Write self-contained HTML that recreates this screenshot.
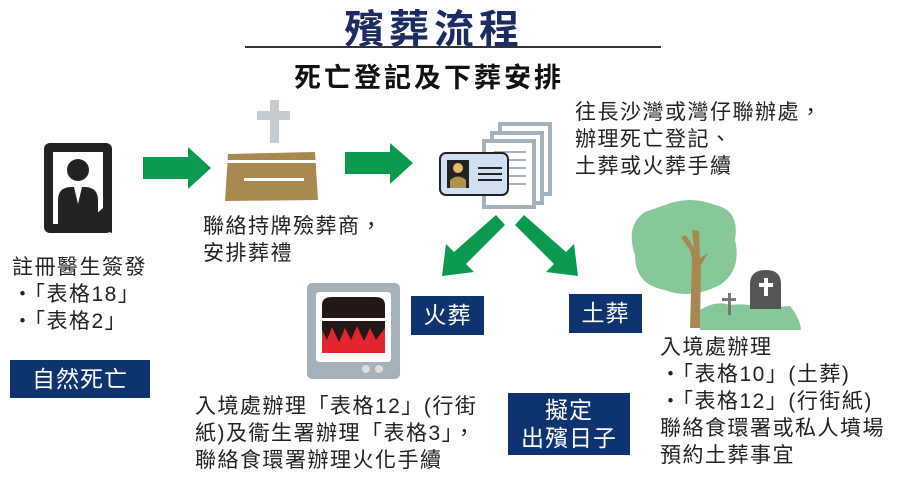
<!DOCTYPE html>
<html><head><meta charset="utf-8"><style>
body{margin:0;width:907px;height:481px;background:#fff;position:relative;overflow:hidden;font-family:"Liberation Sans","Noto Sans CJK TC",sans-serif;color:#222}
.a{position:absolute;white-space:nowrap}
.t{font-size:21px;line-height:27px;letter-spacing:1.5px}
.box{position:absolute;background:#0d3370;color:#fff;text-align:center}
</style></head><body>
<div class="a" style="left:344px;top:-3px;font-size:40px;font-weight:bold;color:#1a2c62;letter-spacing:5px">殯葬流程</div>
<div class="a" style="left:245px;top:46px;width:416px;height:2px;background:#333"></div>
<div class="a" style="left:294px;top:56px;font-size:27px;font-weight:bold;color:#111;letter-spacing:3px">死亡登記及下葬安排</div>

<svg class="a" style="left:0;top:0" width="907" height="481">
 <rect x="44" y="143" width="68" height="90" rx="6" fill="#222"/>
 <rect x="53" y="152" width="50" height="72" fill="#fff"/>
 <circle cx="78" cy="170" r="11" fill="#222"/>
 <path d="M58 224 L58 200 Q58 188 70 187 L86 187 Q98 188 98 200 L98 224 Z" fill="#222"/>
 <path d="M74 187 L78 204 L82 187 Z" fill="#fff"/>
 <path d="M85 224 L112 200 L112 233 Z" fill="#222"/>
 <polygon points="143,157 188,157 188,147 211,168 188,189 188,179 143,179" fill="#0a9a4e"/>
 <polygon points="345,152 390,152 390,143 413,163 390,184 390,174 345,174" fill="#0a9a4e"/>
 <rect x="270" y="100" width="9" height="43" fill="#c3ccd3"/>
 <rect x="257" y="111" width="33" height="9" fill="#c3ccd3"/>
 <path d="M228 154 L315 152 L318 200 L225 201 Z" fill="#a8884f"/>
 <rect x="226" y="160" width="92" height="3" fill="#fff"/>
 <rect x="244" y="178" width="60" height="3" fill="#fff"/>
 <rect x="500" y="124" width="50" height="70" fill="#fff" stroke="#a4b1ba" stroke-width="4"/>
 <rect x="492" y="133" width="50" height="70" fill="#fff" stroke="#a4b1ba" stroke-width="4"/>
 <rect x="484" y="141" width="50" height="66" fill="#fff" stroke="#a4b1ba" stroke-width="4"/>
 <g stroke="#a4b1ba" stroke-width="2"><line x1="494" y1="152" x2="526" y2="152"/><line x1="494" y1="160" x2="526" y2="160"/><line x1="494" y1="168" x2="526" y2="168"/><line x1="494" y1="176" x2="526" y2="176"/><line x1="494" y1="184" x2="526" y2="184"/></g>
 <rect x="440" y="153" width="68" height="42" rx="6" fill="#cfe0f2" stroke="#222" stroke-width="2"/>
 <rect x="447" y="160" width="22" height="28" fill="#222"/>
 <circle cx="458" cy="168" r="5" fill="#e7bb6e"/>
 <path d="M450 188 L450 180 Q458 173 466 180 L466 188 Z" fill="#b2914c"/>
 <g stroke="#222" stroke-width="2"><line x1="478" y1="168" x2="502" y2="168"/><line x1="478" y1="174" x2="502" y2="174"/><line x1="478" y1="180" x2="502" y2="180"/></g>
 <polygon points="496,215 505,225 466,264 474,272 442,276 446,244 454,252" fill="#0a9a4e"/>
 <polygon points="524,215 515,225 554,264 546,272 578,276 574,244 566,252" fill="#0a9a4e"/>
 <rect x="307" y="283" width="93" height="96" rx="5" fill="#a4b1ba"/>
 <rect x="316" y="292" width="75" height="70" rx="3" fill="#fff"/>
 <path d="M322 318 L322 305 Q322 297 332 297 L375 297 Q385 297 385 305 L385 318 Z" fill="#231815"/>
 <rect x="322" y="321" width="63" height="32" fill="#231815"/>
 <path d="M322 353 L322 330 L327 340 L332 327 L339 342 L345 328 L351 340 L357 326 L364 341 L370 328 L376 340 L385 328 L385 353 Z" fill="#e3262e"/>
 <circle cx="366" cy="369" r="4" fill="#ddd"/><circle cx="379" cy="369" r="4" fill="#ddd"/>
 <path d="M665 205 Q690 195 715 205 Q740 210 735 240 Q742 270 720 285 Q690 300 665 290 Q635 285 635 255 Q625 225 645 212 Z" fill="#86c898"/>
 <path d="M692 258 L690 250 L681 237 L686 235 L694 248 L692 230 L699 231 L700 258 L708 253 L701 265 L700 328 L690 328 Z" fill="#a8884f"/>
 <path d="M700 330 L700 310 Q715 300 730 305 Q750 303 760 308 L790 306 Q800 318 801 330 Z" fill="#86c898"/>
 <rect x="728" y="293" width="3" height="22" fill="#777"/><rect x="722" y="298" width="14" height="3" fill="#777"/>
 <path d="M750 309 L750 284 Q750 270 766 270 Q781 270 781 284 L781 309 Z" fill="#555"/>
 <rect x="764" y="278" width="4" height="18" fill="#fff"/><rect x="759" y="283" width="14" height="4" fill="#fff"/>
</svg>

<div class="a t" style="left:575px;top:99px">往長沙灣或灣仔聯辦處，<br>辦理死亡登記、<br>土葬或火葬手續</div>
<div class="a t" style="left:203px;top:213px">聯絡持牌殮葬商，<br>安排葬禮</div>
<div class="a t" style="left:12px;top:254px">註冊醫生簽發<br>・「表格18」<br>・「表格2」</div>
<div class="box" style="left:10px;top:360px;width:140px;height:38px;font-size:23px;line-height:38px;letter-spacing:1px">自然死亡</div>
<div class="box" style="left:411px;top:296px;width:73px;height:39px;font-size:23px;line-height:39px;letter-spacing:1px">火葬</div>
<div class="box" style="left:569px;top:294px;width:73px;height:39px;font-size:23px;line-height:39px;letter-spacing:1px">土葬</div>
<div class="a t" style="left:660px;top:334px">入境處辦理<br>・「表格10」(土葬)<br>・「表格12」(行街紙)<br>聯絡食環署或私人墳場<br>預約土葬事宜</div>
<div class="a t" style="left:195px;top:393px">入境處辦理「表格12」(行街<br>紙)及衞生署辦理「表格3」，<br>聯絡食環署辦理火化手續</div>
<div class="box" style="left:508px;top:393px;width:122px;height:62px;font-size:23px;line-height:28px;padding-top:3px;box-sizing:border-box;letter-spacing:1px">擬定<br>出殯日子</div>
</body></html>
